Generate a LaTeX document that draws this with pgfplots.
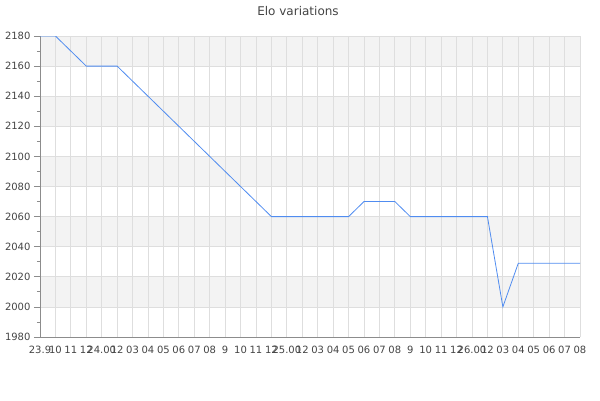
\documentclass[border=0pt]{standalone}
\usepackage{fontspec}
\setmainfont{DejaVu Sans}
\usepackage{pgfplots}
\pgfplotsset{compat=1.18}
\definecolor{linec}{RGB}{80,140,240}
\definecolor{band}{RGB}{243,243,243}
\definecolor{gridc}{RGB}{222,222,222}
\definecolor{axc}{RGB}{140,140,140}
\definecolor{txt}{RGB}{68,68,68}
\begin{document}
\begin{tikzpicture}
\begin{axis}[
  at={(40pt,63pt)}, anchor=south west,
  scale only axis, width=540pt, height=301pt,
  xmin=0, xmax=35, ymin=1980, ymax=2180,
  set layers,
  axis x line*=bottom, axis y line*=left,
  axis line style={axc, line width=0.8pt},
  xtick={0,...,35},
  xticklabels={23.9,10,11,12,24.00,12,03,04,05,06,07,08,9,10,11,12,25.00,12,03,04,05,06,07,08,9,10,11,12,26.00,12,03,04,05,06,07,08},
  ytick={1980,2000,...,2180},
  minor ytick={1990,2010,...,2170},
  tick align=outside,
  major tick length=6pt, minor tick length=3pt,
  x tick style={draw=none},
  y tick style={axc, line width=0.8pt},
  xmajorgrids, ymajorgrids,
  grid style={gridc, line width=0.8pt},
  tick label style={font=\fontsize{10}{12}\selectfont, text=txt},
  /pgf/number format/assume math mode=true,
  /pgf/number format/1000 sep={},
]
\addplot[draw=none, fill=band, on layer=axis background, forget plot] coordinates {(0,2160) (35,2160) (35,2180) (0,2180)} -- cycle;
\addplot[draw=none, fill=band, on layer=axis background, forget plot] coordinates {(0,2120) (35,2120) (35,2140) (0,2140)} -- cycle;
\addplot[draw=none, fill=band, on layer=axis background, forget plot] coordinates {(0,2080) (35,2080) (35,2100) (0,2100)} -- cycle;
\addplot[draw=none, fill=band, on layer=axis background, forget plot] coordinates {(0,2040) (35,2040) (35,2060) (0,2060)} -- cycle;
\addplot[draw=none, fill=band, on layer=axis background, forget plot] coordinates {(0,2000) (35,2000) (35,2020) (0,2020)} -- cycle;
\addplot[linec, line width=0.8pt, mark=none] coordinates {
(0,2180) (1,2180) (3,2160) (5,2160) (15,2060) (20,2060) (21,2070) (23,2070) (24,2060) (29,2060) (30,2000) (31,2029) (35,2029)
};
\end{axis}
\node[anchor=base, text=txt, font=\fontsize{12}{14}\selectfont] at (298pt,384pt) {Elo variations};
\path (0,0) rectangle (600pt,400pt);
\end{tikzpicture}
\end{document}
